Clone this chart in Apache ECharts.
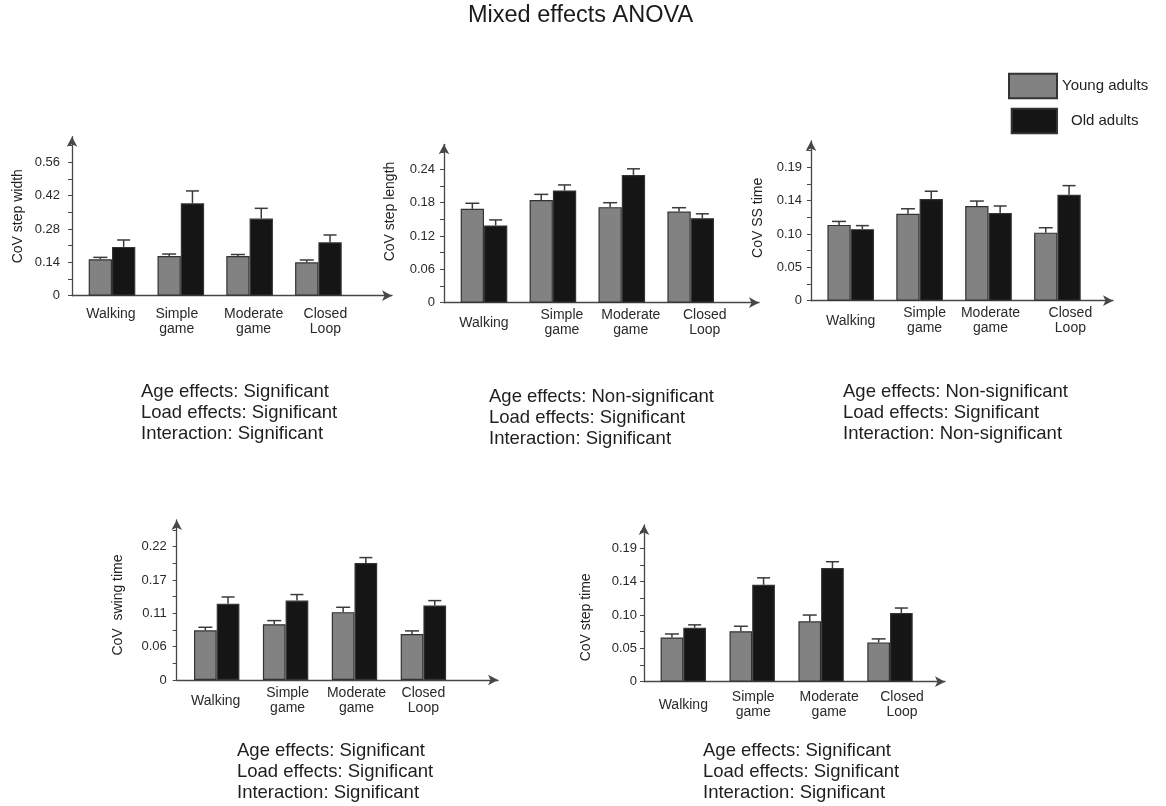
<!DOCTYPE html>
<html>
<head>
<meta charset="utf-8">
<script src="https://cdn.jsdelivr.net/npm/echarts@6/dist/echarts.min.js"></script>
<style>
  html, body { margin: 0; padding: 0; background: #fff; }
  #chart { width: 1166px; height: 806px; }
</style>
</head>
<body>
<div id="chart"></div>
<script>
// ---- data ----
const categories = ['Walking', 'Simple\ngame', 'Moderate\ngame', 'Closed\nLoop'];
const groupNames = ['Young adults', 'Old adults'];
const mainTitle = 'Mixed effects ANOVA';

// CoV step width
const stepWidthYoung   = [0.153, 0.167, 0.167, 0.140];
const stepWidthYoungSE = [0.008, 0.008, 0.006, 0.010];
const stepWidthOld     = [0.205, 0.388, 0.324, 0.224];
const stepWidthOldSE   = [0.029, 0.052, 0.043, 0.031];
const stepWidthTicks   = ['0', '0.14', '0.28', '0.42', '0.56'];
const stepWidthNotes   = ['Age effects: Significant', 'Load effects: Significant', 'Interaction: Significant'];

// CoV step length
const stepLengthYoung   = [0.169, 0.185, 0.172, 0.164];
const stepLengthYoungSE = [0.010, 0.010, 0.008, 0.007];
const stepLengthOld     = [0.139, 0.202, 0.230, 0.152];
const stepLengthOldSE   = [0.010, 0.010, 0.011, 0.008];
const stepLengthTicks   = ['0', '0.06', '0.12', '0.18', '0.24'];
const stepLengthNotes   = ['Age effects: Non-significant', 'Load effects: Significant', 'Interaction: Significant'];

// CoV SS time
const ssTimeYoung   = [0.108, 0.124, 0.135, 0.097];
const ssTimeYoungSE = [0.005, 0.007, 0.007, 0.007];
const ssTimeOld     = [0.102, 0.145, 0.125, 0.151];
const ssTimeOldSE   = [0.005, 0.011, 0.010, 0.013];
const ssTimeTicks   = ['0', '0.05', '0.10', '0.14', '0.19'];
const ssTimeNotes   = ['Age effects: Non-significant', 'Load effects: Significant', 'Interaction: Non-significant'];

// CoV swing time
const swingTimeYoung   = [0.082, 0.092, 0.112, 0.076];
const swingTimeYoungSE = [0.005, 0.006, 0.008, 0.005];
const swingTimeOld     = [0.126, 0.131, 0.193, 0.123];
const swingTimeOldSE   = [0.011, 0.010, 0.009, 0.008];
const swingTimeTicks   = ['0', '0.06', '0.11', '0.17', '0.22'];
const swingTimeNotes   = ['Age effects: Significant', 'Load effects: Significant', 'Interaction: Significant'];

// CoV step time
const stepTimeYoung   = [0.063, 0.072, 0.086, 0.056];
const stepTimeYoungSE = [0.005, 0.007, 0.009, 0.005];
const stepTimeOld     = [0.077, 0.138, 0.162, 0.098];
const stepTimeOldSE   = [0.004, 0.010, 0.009, 0.007];
const stepTimeTicks   = ['0', '0.05', '0.10', '0.14', '0.19'];
const stepTimeNotes   = ['Age effects: Significant', 'Load effects: Significant', 'Interaction: Significant'];

const panels = [
  { yName: 'CoV step width',  young: stepWidthYoung,  youngSE: stepWidthYoungSE,  old: stepWidthOld,  oldSE: stepWidthOldSE,  ticks: stepWidthTicks,  step: 0.14,   notes: stepWidthNotes },
  { yName: 'CoV step length', young: stepLengthYoung, youngSE: stepLengthYoungSE, old: stepLengthOld, oldSE: stepLengthOldSE, ticks: stepLengthTicks, step: 0.06,   notes: stepLengthNotes },
  { yName: 'CoV SS time',     young: ssTimeYoung,     youngSE: ssTimeYoungSE,     old: ssTimeOld,     oldSE: ssTimeOldSE,     ticks: ssTimeTicks,     step: 0.0475, notes: ssTimeNotes },
  { yName: 'CoV  swing time', young: swingTimeYoung,  youngSE: swingTimeYoungSE,  old: swingTimeOld,  oldSE: swingTimeOldSE,  ticks: swingTimeTicks,  step: 0.055,  notes: swingTimeNotes },
  { yName: 'CoV step time',   young: stepTimeYoung,   youngSE: stepTimeYoungSE,   old: stepTimeOld,   oldSE: stepTimeOldSE,   ticks: stepTimeTicks,   step: 0.0475, notes: stepTimeNotes }
];

// ---- layout (pixels) ----
const layouts = [
  { axisX: 72,    zeroY: 295.7, tipY: 131.7, tipX: 397,  first: 112,   spacing: 68.8, barW: 23.3, tickGap: 12, nameGap: 47, namePad: [0, 0, 0, 0],  catAlign: 'top',    catMargin: 11, catShift: [-1, -4, 4, 7],  noteX: 141, noteY: 381 },
  { axisX: 444,   zeroY: 302.7, tipY: 139.3, tipX: 764,  first: 484,   spacing: 68.9, barW: 23.3, tickGap: 9,  nameGap: 47, namePad: [0, 0, 0, 24], catAlign: 'middle', catMargin: 20, catShift: [0, 9, 9, 14],  noteX: 489, noteY: 386 },
  { axisX: 811,   zeroY: 300.7, tipY: 136,   tipX: 1118, first: 850.7, spacing: 68.9, barW: 23.3, tickGap: 9,  nameGap: 46, namePad: [0, 0, 0, 6],  catAlign: 'middle', catMargin: 20, catShift: [0, 5, 2, 13],  noteX: 843, noteY: 381 },
  { axisX: 176.7, zeroY: 680,   tipY: 515,   tipX: 503,  first: 216.7, spacing: 68.9, barW: 22.7, tickGap: 10, nameGap: 52, namePad: [0, 10, 0, 0], catAlign: 'middle', catMargin: 21, catShift: [-1, 2, 2, 0],  noteX: 237, noteY: 740 },
  { axisX: 644,   zeroY: 681.7, tipY: 520,   tipX: 950,  first: 683.3, spacing: 68.9, barW: 22.7, tickGap: 7,  nameGap: 51, namePad: [0, 28, 0, 0], catAlign: 'middle', catMargin: 23, catShift: [0, 1, 8, 12],  noteX: 703, noteY: 740 }
];
const PX_PER_STEP = 33.33;   // vertical pixels between labelled ticks
const ARROW = [8, 10];       // arrow head size on axis ends

const FONT = "'Liberation Sans', Arial, Helvetica, sans-serif";
const YOUNG_COLOR = '#828282';
const OLD_COLOR = '#151515';
const EDGE_COLOR = '#333333';
const AXIS_COLOR = '#474747';

function errorBarRenderer(offsetPx, capW) {
  return function (params, api) {
    const x = api.value(0);
    const mean = api.value(1);
    const hi = api.value(2);
    const base = api.coord([x, mean]);
    const top = api.coord([x, hi]);
    const cx = base[0] + offsetPx;
    const style = { stroke: '#3a3a3a', lineWidth: 1.5 };
    return {
      type: 'group',
      children: [
        { type: 'line', shape: { x1: cx, y1: base[1], x2: cx, y2: top[1] }, style: style },
        { type: 'line', shape: { x1: cx - capW / 2, y1: top[1], x2: cx + capW / 2, y2: top[1] }, style: style }
      ]
    };
  };
}

const grids = [], xAxes = [], yAxes = [], series = [], titles = [];

titles.push({
  text: mainTitle,
  left: 468, top: 2, padding: 0,
  textStyle: { fontFamily: FONT, fontSize: 23.5, fontWeight: 'normal', color: '#1a1a1a', lineHeight: 28 }
});

panels.forEach(function (p, i) {
  const L = layouts[i];
  const gridTop = L.tipY + ARROW[1] / 2;
  const axisEnd = L.tipX - ARROW[1] / 2;
  const yMax = (L.zeroY - gridTop) / PX_PER_STEP * p.step;
  const xMin = (L.axisX - L.first) / L.spacing;
  const xMax = (axisEnd - L.first) / L.spacing;

  grids.push({ left: L.axisX, top: gridTop, width: axisEnd - L.axisX, height: L.zeroY - gridTop });

  xAxes.push({
    type: 'value', gridIndex: i, min: xMin, max: xMax,
    splitLine: { show: false },
    axisTick: { show: false },
    axisLine: { show: true, onZero: false, symbol: ['none', 'arrow'], symbolSize: ARROW, lineStyle: { color: AXIS_COLOR, width: 1.3 } },
    axisLabel: {
      customValues: categories.map(function (c, k) { return k + L.catShift[k] / L.spacing; }),
      formatter: function (v) { return categories[Math.round(v)]; },
      fontFamily: FONT, fontSize: 14, color: '#2a2a2a', lineHeight: 15,
      verticalAlign: L.catAlign, margin: L.catMargin
    }
  });

  const labelValues = p.ticks.map(function (t, k) { return k * p.step; });
  const tickValues = [];
  for (let k = 0; k * p.step / 2 < yMax - 1e-6; k++) tickValues.push(k * p.step / 2);

  yAxes.push({
    type: 'value', gridIndex: i, min: 0, max: yMax,
    name: p.yName, nameLocation: 'middle', nameGap: L.nameGap,
    nameTextStyle: { fontFamily: FONT, fontSize: 14, color: '#222', padding: L.namePad },
    splitLine: { show: false },
    axisLine: { show: true, onZero: false, symbol: ['none', 'arrow'], symbolSize: ARROW, lineStyle: { color: AXIS_COLOR, width: 1.3 } },
    axisTick: { show: true, customValues: tickValues, length: 4, lineStyle: { color: AXIS_COLOR, width: 1 } },
    axisLabel: {
      customValues: labelValues,
      formatter: function (v) { return p.ticks[Math.round(v / p.step)]; },
      fontFamily: FONT, fontSize: 13, color: '#2a2a2a', margin: L.tickGap
    }
  });

  const barStyle = function (color) { return { color: color, borderColor: EDGE_COLOR, borderWidth: 1.2 }; };
  series.push({
    type: 'bar', name: groupNames[0], xAxisIndex: i, yAxisIndex: i,
    barWidth: L.barW, barGap: '0%',
    itemStyle: barStyle(YOUNG_COLOR),
    data: p.young.map(function (v, k) { return [k, v]; })
  });
  series.push({
    type: 'bar', name: groupNames[1], xAxisIndex: i, yAxisIndex: i,
    barWidth: L.barW, barGap: '0%',
    itemStyle: barStyle(OLD_COLOR),
    data: p.old.map(function (v, k) { return [k, v]; })
  });
  series.push({
    type: 'custom', name: 'young-se-' + i, xAxisIndex: i, yAxisIndex: i, z: 5,
    renderItem: errorBarRenderer(-L.barW / 2, 14),
    encode: { x: 0, y: [1, 2] },
    data: p.young.map(function (v, k) { return [k, v, v + p.youngSE[k]]; })
  });
  series.push({
    type: 'custom', name: 'old-se-' + i, xAxisIndex: i, yAxisIndex: i, z: 5,
    renderItem: errorBarRenderer(L.barW / 2, 13),
    encode: { x: 0, y: [1, 2] },
    data: p.old.map(function (v, k) { return [k, v, v + p.oldSE[k]]; })
  });

  titles.push({
    text: p.notes.join('\n'),
    left: L.noteX, top: L.noteY, padding: 0,
    textStyle: { fontFamily: FONT, fontSize: 18.5, fontWeight: 'normal', color: '#1e1e1e', lineHeight: 21 }
  });
});

const legendText = { fontFamily: FONT, fontSize: 15, color: '#222' };
const chart = echarts.init(document.getElementById('chart'), null, { renderer: 'canvas' });
chart.setOption({
  animation: false,
  backgroundColor: '#ffffff',
  title: titles,
  legend: [
    {
      data: [groupNames[0]], left: 1008, top: 72.7, padding: 0,
      itemWidth: 48, itemHeight: 24.6, icon: 'rect', selectedMode: false,
      textStyle: legendText
    },
    {
      data: [groupNames[1]], left: 1010.7, top: 107.7, padding: 0,
      itemWidth: 45.3, itemHeight: 24.6, icon: 'rect', selectedMode: false,
      textStyle: Object.assign({ padding: [0, 0, 0, 9] }, legendText)
    }
  ],
  grid: grids,
  xAxis: xAxes,
  yAxis: yAxes,
  series: series
});
</script>
</body>
</html>
